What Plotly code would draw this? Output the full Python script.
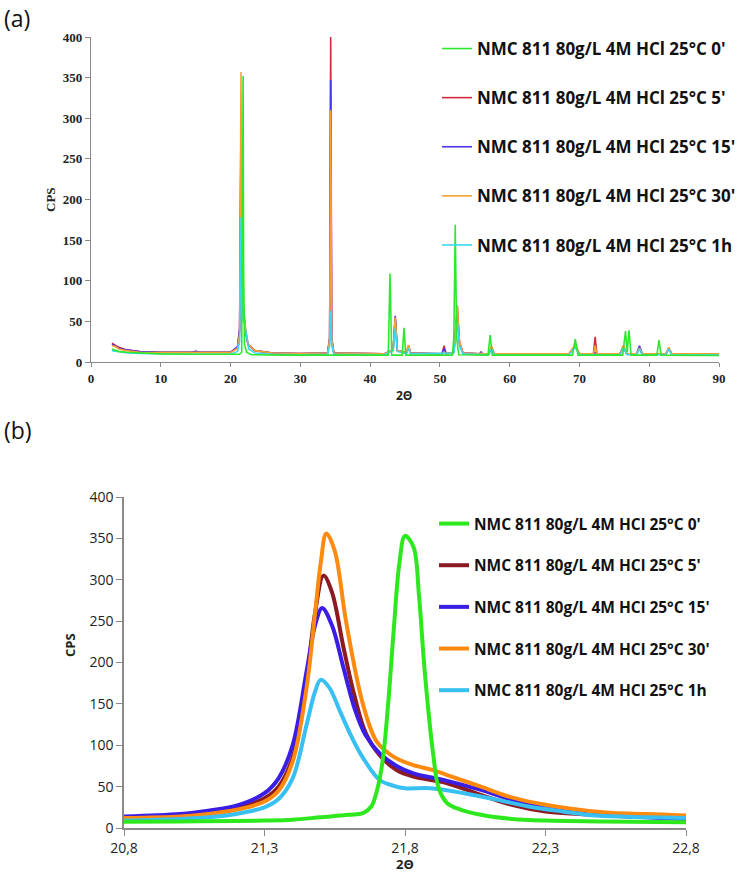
import plotly.graph_objects as go

W, H = 740, 874

SERIES_NAMES = [
    "NMC 811 80g/L 4M HCl 25°C 0'",
    "NMC 811 80g/L 4M HCl 25°C 5'",
    "NMC 811 80g/L 4M HCl 25°C 15'",
    "NMC 811 80g/L 4M HCl 25°C 30'",
    "NMC 811 80g/L 4M HCl 25°C 1h",
]

# ---------- panel (a): full XRD scan, (2theta, CPS) ----------
A_0 = [(3, 16), (4, 13), (5, 12), (7, 11), (10, 10), (15, 9.5), (20, 9), (21.3, 9.5), (21.6, 12),
       (21.72, 150), (21.8, 352), (21.87, 120), (22.0, 22), (22.3, 12), (23, 9), (27, 8.5),
       (42.6, 8.5), (42.85, 109), (43.1, 8.5), (44.6, 8.5), (44.86, 42), (45.1, 8.5),
       (51.8, 8.5), (52.0, 30), (52.2, 169), (52.4, 30), (52.7, 9), (56.9, 8.5), (57.2, 33),
       (57.5, 8.5), (69.0, 8.5), (69.4, 28), (69.8, 8.5), (76.2, 8.5), (76.6, 38), (76.85, 12),
       (77.1, 39), (77.4, 8.5), (81.1, 8.5), (81.4, 27), (81.7, 8.5), (90, 8)]
A_5 = [(3, 23), (3.5, 21), (4, 18), (5, 15), (7, 13), (10, 12), (14.5, 12), (15, 13), (15.5, 12),
       (20, 12), (21.0, 18), (21.3, 40), (21.45, 200), (21.5, 305), (21.6, 150), (21.8, 70),
       (22.1, 40), (22.5, 22), (23.5, 14), (26, 11), (30, 10.5), (33.9, 11), (34.2, 30),
       (34.35, 400), (34.5, 30), (34.8, 11), (42, 10), (43.3, 15), (43.6, 55), (43.9, 14),
       (45.2, 12), (45.5, 20), (45.8, 11), (50.3, 10), (50.6, 20), (50.9, 10), (52.0, 12),
       (52.3, 40), (52.5, 68), (52.8, 25), (53.3, 11), (55.7, 10), (55.9, 12), (56.1, 10),
       (57.0, 10), (57.4, 18), (57.8, 10), (68.5, 10), (69.4, 20), (70.0, 10), (72.0, 10),
       (72.25, 31), (72.5, 10), (75.8, 10), (76.3, 20), (76.8, 10), (78.2, 10), (78.6, 18),
       (79.0, 10), (82.4, 10), (82.8, 17), (83.2, 10), (90, 10)]
A_15 = [(3, 22), (3.5, 20), (4, 17), (5, 15), (7, 13), (10, 12), (14.5, 12), (15, 13), (15.5, 12),
        (20, 12), (21.0, 19), (21.3, 42), (21.45, 190), (21.5, 267), (21.6, 140), (21.8, 68),
        (22.1, 40), (22.5, 21), (23.5, 14), (26, 11), (30, 10.5), (33.9, 11), (34.2, 28),
        (34.35, 347), (34.5, 28), (34.8, 11), (42, 10), (43.3, 15), (43.6, 57), (43.9, 14),
        (45.2, 11), (45.5, 18), (45.8, 11), (50.3, 10), (50.6, 17), (50.9, 10), (52.0, 12),
        (52.3, 38), (52.5, 62), (52.8, 24), (53.3, 11), (55.7, 10), (55.9, 12), (56.1, 10),
        (57.0, 10), (57.4, 18), (57.8, 10), (68.5, 10), (69.4, 19), (70.0, 10), (72.0, 10),
        (72.25, 12), (72.5, 10), (75.8, 10), (76.3, 18), (76.8, 10), (78.2, 10), (78.6, 20),
        (79.0, 10), (82.4, 10), (82.8, 17), (83.2, 10), (90, 10)]
A_30 = [(3, 20), (3.5, 19), (4, 16), (5, 14), (7, 12), (10, 11.5), (14.5, 11.5), (15, 12),
        (15.5, 11.5), (20, 11.5), (21.0, 17), (21.3, 35), (21.45, 230), (21.5, 357), (21.6, 180),
        (21.8, 76), (22.1, 45), (22.5, 22), (23.5, 14), (26, 11), (30, 10.5), (33.9, 11),
        (34.2, 28), (34.35, 310), (34.5, 28), (34.8, 11), (42, 10), (43.3, 15), (43.6, 55),
        (43.9, 14), (45.2, 12), (45.5, 21), (45.8, 11), (50.3, 10), (50.6, 12), (50.9, 10),
        (52.0, 12), (52.3, 42), (52.5, 70), (52.8, 26), (53.3, 11), (55.7, 10), (55.9, 11),
        (56.1, 10), (57.0, 10), (57.4, 20), (57.8, 10), (68.5, 10), (69.4, 22), (70.0, 10),
        (72.0, 10), (72.25, 20), (72.5, 10), (75.8, 10), (76.3, 20), (76.8, 10), (78.2, 10),
        (78.6, 17), (79.0, 10), (82.4, 10), (82.8, 18), (83.2, 10), (90, 10)]
A_1H = [(3, 14), (4, 12.5), (5, 11.5), (7, 10.5), (10, 10), (15, 9.5), (20, 9.5), (21.0, 13),
        (21.3, 25), (21.45, 130), (21.5, 178), (21.6, 110), (21.8, 50), (22.0, 48), (22.2, 35),
        (22.6, 16), (23.5, 11), (26, 9.5), (30, 9), (33.9, 9.5), (34.2, 20), (34.35, 63),
        (34.5, 20), (34.8, 9.5), (42, 9), (43.3, 14), (43.6, 42), (43.9, 13), (45.2, 10),
        (45.5, 17), (45.8, 10), (52.0, 11), (52.3, 32), (52.5, 50), (52.8, 20), (53.3, 10),
        (57.0, 9), (57.4, 16), (57.8, 9), (68.5, 9), (69.4, 18), (70.0, 9), (75.8, 9),
        (76.3, 17), (76.8, 9), (78.2, 9), (78.6, 16), (79.0, 9), (82.4, 9), (82.8, 16),
        (83.2, 9), (90, 9)]

# ---------- panel (b): zoom on the ~21.5 deg peak ----------
B_0 = [(20.8, 7.5), (21.0, 8), (21.2, 8.5), (21.3, 9), (21.4, 10), (21.5, 13), (21.6, 16),
       (21.65, 18), (21.68, 26), (21.7, 45), (21.72, 80), (21.74, 150), (21.76, 240),
       (21.78, 320), (21.8, 353), (21.83, 340), (21.85, 280), (21.87, 190), (21.9, 90),
       (21.92, 48), (21.95, 30), (22.0, 22), (22.07, 16), (22.18, 11), (22.3, 9), (22.5, 8),
       (22.8, 7)]
B_5 = [(20.8, 12), (21.0, 15), (21.1, 18), (21.2, 24), (21.3, 36), (21.35, 50), (21.4, 85),
       (21.45, 180), (21.48, 260), (21.51, 305), (21.54, 285), (21.58, 220), (21.62, 160),
       (21.66, 115), (21.71, 88), (21.77, 70), (21.83, 62), (21.95, 54), (22.07, 40),
       (22.18, 28), (22.3, 20), (22.42, 17), (22.6, 14), (22.8, 12)]
B_15 = [(20.8, 14), (21.0, 17), (21.1, 21), (21.2, 27), (21.3, 42), (21.35, 60), (21.4, 100),
        (21.45, 190), (21.48, 245), (21.505, 266), (21.54, 245), (21.58, 195), (21.62, 145),
        (21.66, 112), (21.71, 90), (21.77, 75), (21.83, 66), (21.95, 57), (22.07, 46),
        (22.18, 34), (22.3, 25), (22.42, 18), (22.6, 14), (22.8, 11)]
B_30 = [(20.8, 12), (21.0, 14), (21.1, 17), (21.2, 22), (21.3, 32), (21.35, 45), (21.4, 80),
        (21.45, 170), (21.48, 260), (21.5, 320), (21.52, 356), (21.55, 335), (21.59, 250),
        (21.65, 150), (21.7, 104), (21.76, 86), (21.83, 76), (21.9, 70), (21.95, 64),
        (22.07, 50), (22.18, 37), (22.3, 28), (22.42, 22), (22.54, 18), (22.66, 17), (22.8, 15)]
B_1H = [(20.8, 9), (21.0, 11), (21.1, 13), (21.2, 17), (21.3, 25), (21.35, 35), (21.4, 60),
        (21.45, 125), (21.48, 165), (21.5, 179), (21.53, 170), (21.57, 140), (21.61, 110),
        (21.65, 85), (21.71, 58), (21.76, 51), (21.8, 48), (21.89, 48), (22.01, 42),
        (22.13, 34), (22.24, 26), (22.36, 20), (22.48, 15), (22.66, 13), (22.8, 12)]

A_COLORS = ["#2ee82e", "#d42a3c", "#4a35e8", "#f7a030", "#3ad8f0"]
B_COLORS = ["#2ee81e", "#8b1a22", "#3a1ee6", "#ff8a10", "#38c0f2"]

A_XTICKS = [0, 10, 20, 30, 40, 50, 60, 70, 80, 90]
A_YTICKS = [0, 50, 100, 150, 200, 250, 300, 350, 400]
B_XTICKS = [20.8, 21.3, 21.8, 22.3, 22.8]
B_XTICKTEXT = ["20,8", "21,3", "21,8", "22,3", "22,8"]
B_YTICKS = [0, 50, 100, 150, 200, 250, 300, 350, 400]

A_DATA = [A_0, A_5, A_15, A_30, A_1H]
B_DATA = [B_0, B_5, B_15, B_30, B_1H]

DRAW_ORDER = [1, 2, 3, 4, 0]  # green drawn last (on top)

fig = go.Figure()

for i in DRAW_ORDER:
    xs = [p[0] for p in A_DATA[i]]
    ys = [p[1] for p in A_DATA[i]]
    fig.add_trace(go.Scatter(
        x=xs, y=ys, mode="lines", name=SERIES_NAMES[i],
        line=dict(color=A_COLORS[i], width=1.6),
        xaxis="x", yaxis="y", legend="legend", legendgroup="a%d" % i, legendrank=i + 1,
    ))

for i in DRAW_ORDER:
    xs = [p[0] for p in B_DATA[i]]
    ys = [p[1] for p in B_DATA[i]]
    fig.add_trace(go.Scatter(
        x=xs, y=ys, mode="lines", name=SERIES_NAMES[i], line_shape="spline",
        line=dict(color=B_COLORS[i], width=4),
        xaxis="x2", yaxis="y2", legend="legend2", legendgroup="b%d" % i, legendrank=i + 1,
    ))

def px_x(p):
    return p / W

def px_y(p):
    return 1 - p / H

serif = "Liberation Serif, Times New Roman, serif"
sans = "Open Sans, Noto Sans, sans-serif"

axis_common = dict(showline=True, linecolor="#8a8a8a", ticks="outside", tickcolor="#8a8a8a",
                   showgrid=False, zeroline=False, automargin=False, fixedrange=True)

fig.update_layout(
    width=W, height=H, margin=dict(l=0, r=0, t=0, b=0, autoexpand=False),
    paper_bgcolor="white", plot_bgcolor="white",
    showlegend=True,
    xaxis=dict(domain=[px_x(91), px_x(719)], range=[0, 90], tickvals=A_XTICKS,
               linewidth=1.3, ticklen=4,
               tickfont=dict(family=serif, size=13, color="#222", weight="bold"),
               anchor="y", **axis_common),
    yaxis=dict(domain=[px_y(362), px_y(37)], range=[0, 400], tickvals=A_YTICKS,
               linewidth=1.3, ticklen=5,
               tickfont=dict(family=serif, size=13, color="#222", weight="bold"),
               anchor="x", **axis_common),
    xaxis2=dict(domain=[px_x(124), px_x(686)], range=[20.8, 22.8], tickvals=B_XTICKS,
                ticktext=B_XTICKTEXT, linewidth=1.5, ticklen=6,
                tickfont=dict(family=sans, size=14, color="#222"),
                anchor="y2", **axis_common),
    yaxis2=dict(domain=[px_y(828), px_y(497)], range=[0, 400], tickvals=B_YTICKS,
                linewidth=1.5, ticklen=6,
                tickfont=dict(family=sans, size=14, color="#222"),
                anchor="x2", **axis_common),
    legend=dict(x=px_x(437), y=px_y(31), xanchor="left", yanchor="top",
                bgcolor="rgba(0,0,0,0)", traceorder="grouped", tracegroupgap=24,
                font=dict(family=sans, size=17, color="#111", weight="bold")),
    legend2=dict(x=px_x(434), y=px_y(507), xanchor="left", yanchor="top",
                 bgcolor="rgba(0,0,0,0)", traceorder="grouped", tracegroupgap=18.5,
                 font=dict(family=sans, size=15.5, color="#111", weight="bold")),
    annotations=[
        dict(text="(a)", x=px_x(2), y=px_y(18), xref="paper", yref="paper", xanchor="left",
             yanchor="middle", showarrow=False, font=dict(family=sans, size=23, color="#111")),
        dict(text="(b)", x=px_x(2), y=px_y(430), xref="paper", yref="paper", xanchor="left",
             yanchor="middle", showarrow=False, font=dict(family=sans, size=23, color="#111")),
        dict(text="CPS", x=px_x(50), y=px_y(200), xref="paper", yref="paper", textangle=-90,
             xanchor="center", yanchor="middle", showarrow=False,
             font=dict(family=serif, size=13, color="#222", weight="bold")),
        dict(text="2Θ", x=px_x(404), y=px_y(395), xref="paper", yref="paper",
             xanchor="center", yanchor="middle", showarrow=False,
             font=dict(family=sans, size=12, color="#222", weight="bold")),
        dict(text="CPS", x=px_x(70), y=px_y(645), xref="paper", yref="paper", textangle=-90,
             xanchor="center", yanchor="middle", showarrow=False,
             font=dict(family=sans, size=13, color="#222", weight="bold")),
        dict(text="2Θ", x=px_x(405), y=px_y(864), xref="paper", yref="paper",
             xanchor="center", yanchor="middle", showarrow=False,
             font=dict(family=sans, size=13, color="#222", weight="bold")),
    ],
)

fig.write_html("out.html", config={"displayModeBar": False},
               post_script="document.body.style.margin='0';")
